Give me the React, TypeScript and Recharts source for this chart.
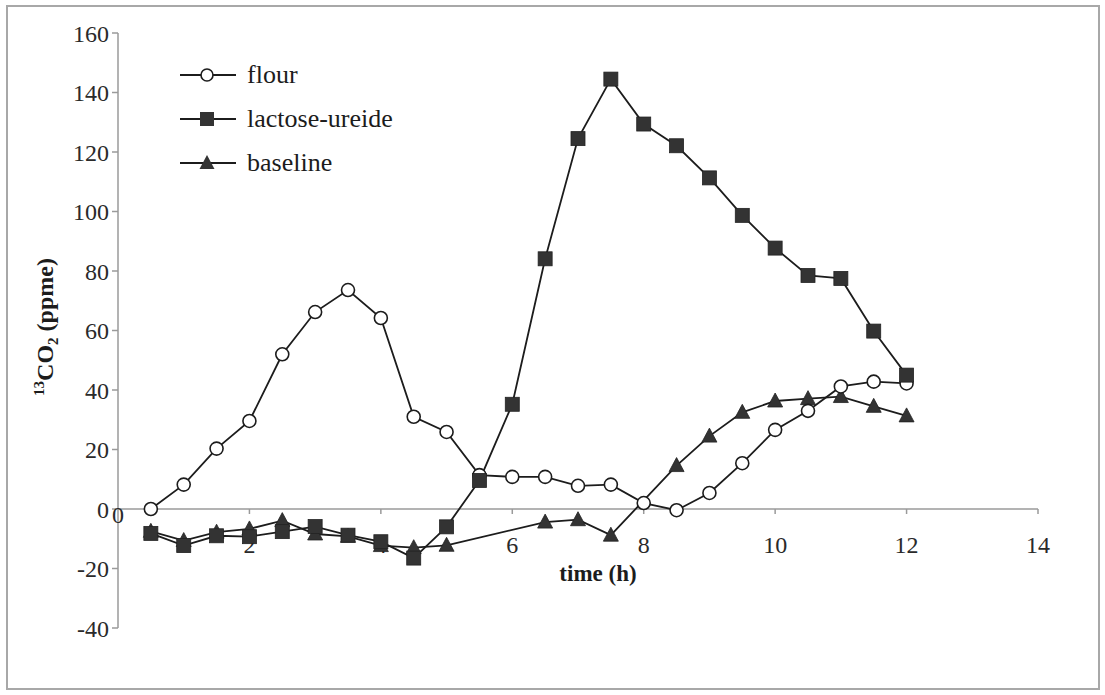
import React from "react";
import {
  LineChart,
  Line,
  XAxis,
  YAxis,
  ReferenceLine,
  ReferenceDot,
  Legend,
} from "recharts";

// sampling times (h)
const times = [
  0.5, 1, 1.5, 2, 2.5, 3, 3.5, 4, 4.5, 5, 5.5, 6, 6.5, 7, 7.5, 8, 8.5, 9, 9.5,
  10, 10.5, 11, 11.5, 12,
];

// 13CO2 enrichment (ppme)
const flour = [
  0, 8.2, 20.3, 29.6, 52, 66.2, 73.6, 64.2, 31, 25.9, 11.4, 10.8, 10.8, 7.8,
  8.2, 2, -0.4, 5.4, 15.4, 26.6, 33, 41.2, 42.8, 42.2,
];
const lactoseUreide = [
  -8.2, -12.3, -9, -9.3, -7.6, -5.9, -8.8, -11, -16.5, -6, 9.6, 35.2, 84.1,
  124.5, 144.5, 129.4, 122.1, 111.3, 98.7, 87.7, 78.5, 77.5, 59.8, 45,
];
const baseline = [
  -7.5, -10.6, -7.8, -6.7, -3.9, -8.4, -9.2, -12.3, -13, -12.2, null, null,
  -4.4, -3.6, -8.8, null, 14.6, 24.5, 32.5, 36.3, 37.1, 37.8, 34.5, 31.3,
];

const xTicks = [0, 2, 4, 6, 8, 10, 12, 14];
const yTicks = [-40, -20, 0, 20, 40, 60, 80, 100, 120, 140, 160];

const data = times.map((t, i) => ({
  t,
  flour: flour[i],
  lactose: lactoseUreide[i],
  baseline: baseline[i],
}));

const FONT = "Times New Roman, Liberation Serif, Tinos, DejaVu Serif, serif";
const INK = "#1c1c1c";
const AXIS = "#9a9a9a";

const circleDot = (p: any) => {
  if (p.cy == null || p.value == null) return <g key={p.key} />;
  return (
    <circle
      key={p.key}
      cx={p.cx}
      cy={p.cy}
      r={6.5}
      fill="#fff"
      stroke={INK}
      strokeWidth={1.6}
    />
  );
};

const squareDot = (p: any) => {
  if (p.cy == null || p.value == null) return <g key={p.key} />;
  return (
    <rect
      key={p.key}
      x={p.cx - 7}
      y={p.cy - 7}
      width={14}
      height={14}
      fill="#333"
      stroke="#222"
      strokeWidth={0.8}
    />
  );
};

const triangleDot = (p: any) => {
  if (p.cy == null || p.value == null) return <g key={p.key} />;
  const { cx, cy } = p;
  return (
    <path
      key={p.key}
      d={`M${cx},${cy - 8} L${cx - 7.5},${cy + 6} L${cx + 7.5},${cy + 6} Z`}
      fill="#333"
      stroke="#222"
      strokeWidth={0.8}
    />
  );
};

// x axis drawn through y = 0: tick mark + label at each position
const XTick = (value: number) => (p: any) => {
  const { cx, cy } = p;
  if (cx == null) return <g />;
  return (
    <g>
      {value !== 0 && (
        <line x1={cx} y1={cy} x2={cx} y2={cy + 5} stroke={AXIS} strokeWidth={1.5} />
      )}
      <text
        x={cx}
        y={value === 0 ? cy + 14 : cy + 44}
        textAnchor="middle"
        style={{ fontFamily: FONT }}
        fontSize={24}
        fill="#2a2a2a"
      >
        {value}
      </text>
    </g>
  );
};

const YTitle = () => (
  <text
    transform="translate(53, 327) rotate(-90)"
    textAnchor="middle"
    style={{ fontFamily: FONT }}
    fontWeight="bold"
    fontSize={24}
    fill={INK}
  >
    <tspan fontSize={15} dy={-9}>13</tspan>
    <tspan dy={9}>CO</tspan>
    <tspan fontSize={15} dy={5}>2</tspan>
    <tspan dy={-5}> (ppme)</tspan>
  </text>
);

const legendRows = [
  { name: "flour", marker: "circle" },
  { name: "lactose-ureide", marker: "square" },
  { name: "baseline", marker: "triangle" },
];

const LegendIcon = ({ marker }: { marker: string }) => (
  <svg width={62} height={24} style={{ display: "block" }}>
    <line x1={2} y1={12} x2={58} y2={12} stroke={INK} strokeWidth={1.8} />
    {marker === "circle" && (
      <circle cx={29} cy={12} r={6} fill="#fff" stroke={INK} strokeWidth={1.6} />
    )}
    {marker === "square" && <rect x={22} y={5} width={14} height={14} fill="#333" />}
    {marker === "triangle" && <path d="M29,4 L21.5,18 L36.5,18 Z" fill="#333" />}
  </svg>
);

const renderLegend = () => (
  <div style={{ fontFamily: FONT, fontSize: 26, color: INK }}>
    {legendRows.map((r) => (
      <div
        key={r.name}
        style={{ display: "flex", alignItems: "center", height: 44 }}
      >
        <LegendIcon marker={r.marker} />
        <span style={{ marginLeft: 7, lineHeight: "28px" }}>{r.name}</span>
      </div>
    ))}
  </div>
);

export default function App() {
  return (
    <div
      style={{
        position: "absolute",
        left: 0,
        top: 0,
        width: 1105,
        height: 695,
        background: "#fff",
        fontFamily: FONT,
      }}
    >
      <div
        style={{
          position: "absolute",
          left: 6,
          top: 5,
          width: 1090,
          height: 681,
          border: "2px solid #a8a8a8",
        }}
      />
      <LineChart
        width={1105}
        height={695}
        data={data}
        margin={{ top: 33, right: 67, bottom: 67, left: 58 }}
        style={{ fontFamily: FONT }}
      >
        <XAxis dataKey="t" type="number" domain={[0, 14]} ticks={xTicks} hide />
        <YAxis
          type="number"
          domain={[-40, 160]}
          ticks={yTicks}
          width={60}
          axisLine={{ stroke: AXIS, strokeWidth: 1.5 }}
          tickLine={{ stroke: AXIS, strokeWidth: 1.5 }}
          tickSize={6}
          tickMargin={3}
          tick={{ fontSize: 24, fill: "#2a2a2a", style: { fontFamily: FONT } }}
          label={<YTitle />}
        />
        <ReferenceLine y={0} stroke={AXIS} strokeWidth={1.5} />
        {xTicks.map((v) => (
          <ReferenceDot key={v} x={v} y={0} shape={XTick(v)} />
        ))}
        <text
          x={598}
          y={581}
          textAnchor="middle"
          style={{ fontFamily: FONT }}
          fontWeight="bold"
          fontSize={23}
          fill={INK}
        >
          time (h)
        </text>
        <Legend
          layout="vertical"
          align="center"
          verticalAlign="middle"
          content={renderLegend}
          wrapperStyle={{ left: 178, top: 53, width: 320 }}
        />
        <Line
          dataKey="baseline"
          type="linear"
          stroke={INK}
          strokeWidth={1.8}
          connectNulls
          dot={triangleDot}
          isAnimationActive={false}
        />
        <Line
          dataKey="flour"
          type="linear"
          stroke={INK}
          strokeWidth={1.8}
          dot={circleDot}
          isAnimationActive={false}
        />
        <Line
          dataKey="lactose"
          type="linear"
          stroke={INK}
          strokeWidth={1.8}
          dot={squareDot}
          isAnimationActive={false}
        />
      </LineChart>
    </div>
  );
}
